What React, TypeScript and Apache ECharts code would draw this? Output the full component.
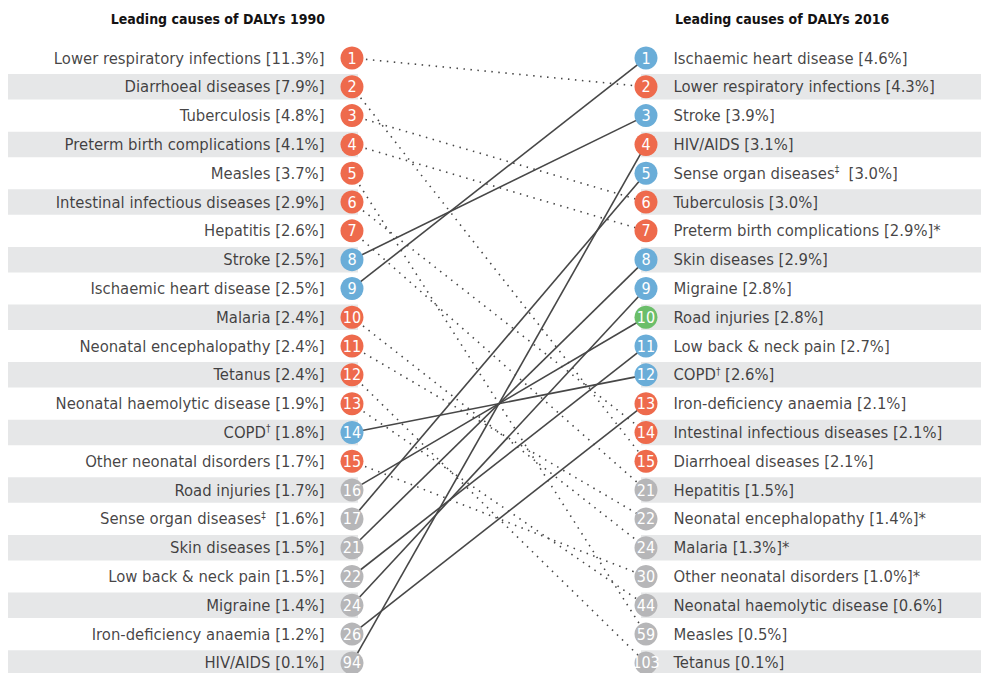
import React, { useEffect, useRef } from "react";
import * as echarts from "echarts";

// ---- Data ----
const causes1990 = [
  "Lower respiratory infections",
  "Diarrhoeal diseases",
  "Tuberculosis",
  "Preterm birth complications",
  "Measles",
  "Intestinal infectious diseases",
  "Hepatitis",
  "Stroke",
  "Ischaemic heart disease",
  "Malaria",
  "Neonatal encephalopathy",
  "Tetanus",
  "Neonatal haemolytic disease",
  "COPD†",
  "Other neonatal disorders",
  "Road injuries",
  "Sense organ diseases‡ ",
  "Skin diseases",
  "Low back & neck pain",
  "Migraine",
  "Iron-deficiency anaemia",
  "HIV/AIDS",
];
const share1990 = [11.3, 7.9, 4.8, 4.1, 3.7, 2.9, 2.6, 2.5, 2.5, 2.4, 2.4, 2.4, 1.9, 1.8, 1.7, 1.7, 1.6, 1.5, 1.5, 1.4, 1.2, 0.1];
const rank1990 = [1, 2, 3, 4, 5, 6, 7, 8, 9, 10, 11, 12, 13, 14, 15, 16, 17, 21, 22, 24, 26, 94];
// group: C = communicable, maternal, neonatal & nutritional; N = non-communicable; I = injuries
const group1990 = ["C", "C", "C", "C", "C", "C", "C", "N", "N", "C", "C", "C", "C", "N", "C", "I", "N", "N", "N", "N", "C", "C"];

const causes2016 = [
  "Ischaemic heart disease",
  "Lower respiratory infections",
  "Stroke",
  "HIV/AIDS",
  "Sense organ diseases‡ ",
  "Tuberculosis",
  "Preterm birth complications",
  "Skin diseases",
  "Migraine",
  "Road injuries",
  "Low back & neck pain",
  "COPD†",
  "Iron-deficiency anaemia",
  "Intestinal infectious diseases",
  "Diarrhoeal diseases",
  "Hepatitis",
  "Neonatal encephalopathy",
  "Malaria",
  "Other neonatal disorders",
  "Neonatal haemolytic disease",
  "Measles",
  "Tetanus",
];
const share2016 = [4.6, 4.3, 3.9, 3.1, 3.0, 3.0, 2.9, 2.9, 2.8, 2.8, 2.7, 2.6, 2.1, 2.1, 2.1, 1.5, 1.4, 1.3, 1.0, 0.6, 0.5, 0.1];
const rank2016 = [1, 2, 3, 4, 5, 6, 7, 8, 9, 10, 11, 12, 13, 14, 15, 21, 22, 24, 30, 44, 59, 103];
const note2016 = ["", "", "", "", "", "", "*", "", "", "", "", "", "", "", "", "", "*", "*", "*", "", "", ""];

const title1990 = "Leading causes of DALYs 1990";
const title2016 = "Leading causes of DALYs 2016";

// ---- Styles ----
const FONT = "'Liberation Sans Narrow', 'DejaVu Sans Condensed', 'Roboto Condensed', sans-serif";
const COLORS: Record<string, string> = { C: "#EE6A4C", N: "#6AADD8", I: "#6BBE6A", out: "#B6B6B8" };
const TEXT = "#141213";
const BAND = "#E6E7E8";
const LINE = "#474747";

const withMarks = (s: string) => s.replace(/([†‡])/g, "{s|$1}");

export default function App() {
  const ref = useRef<HTMLDivElement>(null);
  useEffect(() => {
    if (!ref.current) return;
    const chart = echarts.init(ref.current, undefined, { renderer: "svg" });

    const groupOf = (name: string) => group1990[causes1990.indexOf(name)];
    const colorFor = (name: string, rank: number) => (rank > 15 ? COLORS.out : COLORS[groupOf(name)]);

    const leftCircles = causes1990.map((c, i) => ({
      value: [0, i + 1, rank1990[i]],
      itemStyle: { color: colorFor(c, rank1990[i]), opacity: 1 },
    }));
    const rightCircles = causes2016.map((c, i) => ({
      value: [1, i + 1, rank2016[i]],
      itemStyle: { color: colorFor(c, rank2016[i]), opacity: 1 },
    }));
    const leftText = causes1990.map((c, i) => ({
      value: [0, i + 1],
      label: { formatter: withMarks(`${c} [${share1990[i].toFixed(1)}%]`) },
    }));
    const rightText = causes2016.map((c, i) => ({
      value: [1, i + 1],
      label: { formatter: withMarks(`${c} [${share2016[i].toFixed(1)}%]${note2016[i]}`) },
    }));
    const links = causes1990.map((c, i) => {
      const from = i + 1;
      const to = causes2016.indexOf(c) + 1;
      const up = to < from;
      return {
        coords: [
          [0, from],
          [1, to],
        ],
        lineStyle: up
          ? { color: LINE, width: 1.6, type: "solid" as const, opacity: 1 }
          : { color: LINE, width: 1.6, type: [1.5, 5.5], opacity: 1 },
      };
    });
    const bandRows = causes1990.map((_, i) => i + 1).filter((r) => r % 2 === 0).map((r) => [0, r]);

    const labelBase = {
      show: true,
      color: TEXT,
      fontSize: 16.5,
      fontFamily: FONT,
      rich: {
        s: { fontSize: 10, color: TEXT, fontFamily: FONT, padding: [0, 0, 7, 0] },
      },
    };

    const option: any = {
      animation: false,
      grid: { left: 8, width: 973, top: 29.2, bottom: 0 },
      xAxis: { type: "value", min: -1.17, max: 2.1395, show: false },
      yAxis: { type: "value", min: 0, max: 22.35, inverse: true, show: false },
      graphic: [
        {
          type: "text",
          x: 325,
          y: 19,
          style: { text: title1990, align: "right", verticalAlign: "middle", font: `bold 14px ${FONT}`, fill: TEXT },
        },
        {
          type: "text",
          x: 675,
          y: 19,
          style: { text: title2016, align: "left", verticalAlign: "middle", font: `bold 14px ${FONT}`, fill: TEXT },
        },
      ],
      series: [
        {
          type: "custom",
          silent: true,
          z: 0,
          clip: false,
          data: bandRows,
          renderItem: (params: any, api: any) => {
            const row = api.value(1);
            const p0 = api.coord([0, row]);
            const p1 = api.coord([1, row]);
            const cs = params.coordSys;
            const h = 25.5;
            return {
              type: "group",
              children: [
                {
                  type: "rect",
                  shape: { x: cs.x, y: p0[1] - h / 2, width: p0[0] + 6 - cs.x, height: h },
                  style: { fill: BAND },
                },
                {
                  type: "rect",
                  shape: { x: p1[0] - 5, y: p1[1] - h / 2, width: cs.x + cs.width - (p1[0] - 5), height: h },
                  style: { fill: BAND },
                },
              ],
            };
          },
        },
        {
          type: "lines",
          coordinateSystem: "cartesian2d",
          silent: true,
          z: 2,
          data: links,
        },
        {
          type: "scatter",
          silent: true,
          z: 3,
          symbolSize: 23,
          data: [...leftCircles, ...rightCircles],
          label: {
            show: true,
            position: "inside",
            formatter: (p: any) => String(p.value[2]),
            color: "#fff",
            fontSize: 16,
            fontFamily: FONT,
          },
        },
        {
          type: "scatter",
          silent: true,
          z: 3,
          symbolSize: 1,
          itemStyle: { color: "rgba(0,0,0,0)" },
          data: leftText,
          label: { ...labelBase, position: "left", distance: 27 },
        },
        {
          type: "scatter",
          silent: true,
          z: 3,
          symbolSize: 1,
          itemStyle: { color: "rgba(0,0,0,0)" },
          data: rightText,
          label: { ...labelBase, position: "right", distance: 27 },
        },
      ],
    };
    chart.setOption(option);
    return () => chart.dispose();
  }, []);
  return <div ref={ref} style={{ position: "absolute", left: 0, top: 0, width: 981, height: 673 }} />;
}
